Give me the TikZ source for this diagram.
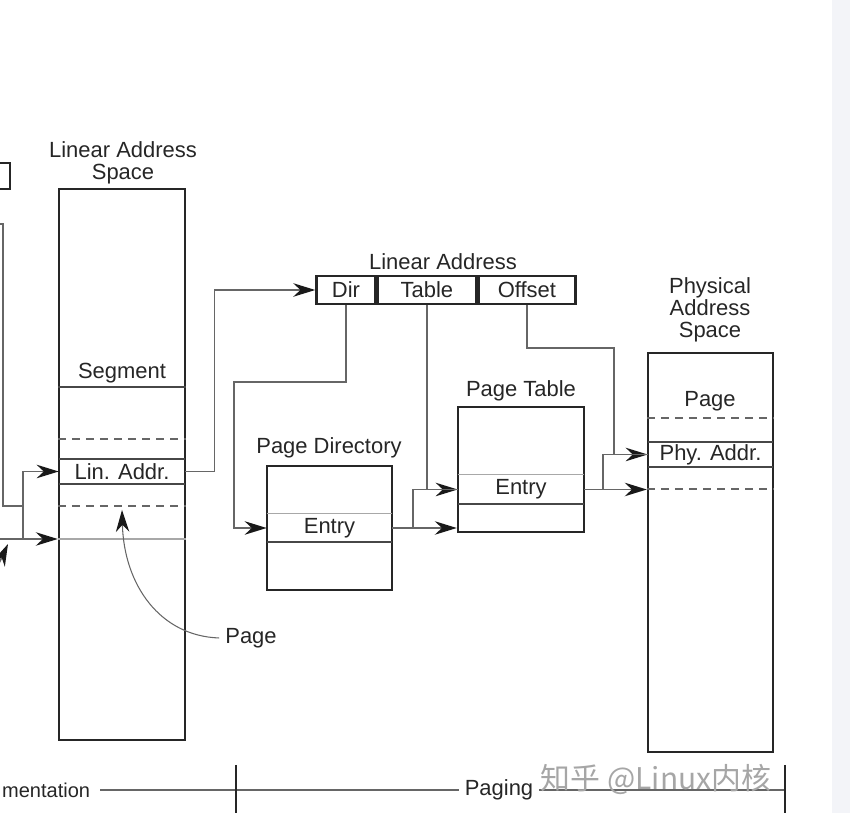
\documentclass[tikz,border=0pt]{standalone}
\usepackage{fontspec}
\setmainfont{Liberation Sans}
\newfontfamily\cjkfont{Noto Sans CJK SC}
\usepackage{tikz}
\usetikzlibrary{arrows.meta,calc}
\definecolor{inkgrey}{HTML}{262626}
\definecolor{linkgrey}{HTML}{666666}
\definecolor{softgrey}{HTML}{A8A8A8}
\definecolor{stripbg}{HTML}{F3F4F8}

\begin{document}
\begin{tikzpicture}[x=0.02cm,y=-0.02cm,
        >={Stealth[length=4.4mm,width=2.7mm,color=black!90]},
        every node/.style={font=\fontsize{12.5}{12.5}\selectfont,text=inkgrey},
        membox/.style={draw=inkgrey,line width=1.4pt,inner sep=0pt},
        slot/.style={inner sep=0pt,minimum height=0.5cm},
        link/.style={draw=linkgrey,line width=0.9pt},
        divline/.style={draw=inkgrey!85,line width=1pt},
        dashline/.style={draw=linkgrey,line width=0.9pt,dash pattern=on 4.5pt off 3.5pt},
        greyline/.style={draw=softgrey,line width=0.8pt}]
        \useasboundingbox (0,0) rectangle (850,813);
        \fill[stripbg] (832,0) rectangle (850,813);
        % cut-off part on the left
        \node[membox,minimum width=1cm,minimum height=0.52cm] (sel) at (-15,176) {};
        \coordinate (segin) at (-10,224);
        \coordinate (segdn) at (3,506);
        \coordinate (segj) at (23,506);
        \coordinate (basein) at (-10,539);
        \coordinate (tipa) at (-6,574);
        \coordinate (tipb) at (8,544);
        % linear address space
        \node[align=center] (lastitle) at (123,163) {Linear Address\\Space};
        \node[membox,minimum width=2.52cm,minimum height=11.02cm] (las) at (122,464.5) {};
        \node (segtxt) at (122,373) {Segment};
        \node[slot,minimum width=2.52cm] (lin) at (122,471.5) {Lin. Addr.};
        \draw[divline] (las.west |- 0,387) -- (las.east |- 0,387);
        \draw[dashline] (las.west |- 0,439) -- (las.east |- 0,439);
        \draw[divline] (lin.north west) -- (lin.north east);
        \draw[divline] (lin.south west) -- (lin.south east);
        \draw[dashline] (las.west |- 0,506) -- (las.east |- 0,506);
        \draw[greyline] (las.west |- 0,539) -- (las.east |- 0,539);
        % linear address fields
        \node (latitle) at (443,262) {Linear Address};
        \node[membox,minimum width=1.18cm,minimum height=0.56cm] (dir) at (346,290) {Dir};
        \node[membox,minimum width=1.96cm,minimum height=0.56cm,anchor=west] (table) at (dir.east) {Table};
        \node[membox,minimum width=1.94cm,minimum height=0.56cm,anchor=west] (offset) at (table.east) {Offset};
        % page directory
        \node (pdtitle) at (329,448) {Page Directory};
        \node[membox,minimum width=2.5cm,minimum height=2.48cm] (pd) at (329.5,528) {};
        \node[slot,minimum width=2.5cm,minimum height=0.56cm] (pde) at (329.5,528) {Entry};
        \draw[greyline] (pde.north west) -- (pde.north east);
        \draw[divline] (pde.south west) -- (pde.south east);
        % page table
        \node (pttitle) at (521,391) {Page Table};
        \node[membox,minimum width=2.52cm,minimum height=2.5cm] (pt) at (521,469.5) {};
        \node[slot,minimum width=2.52cm,minimum height=0.58cm] (pte) at (521,489.5) {Entry};
        \draw[greyline] (pte.north west) -- (pte.north east);
        \draw[divline] (pte.south west) -- (pte.south east);
        % physical address space
        \node[align=center] (pastitle) at (710,310) {Physical\\Address\\Space};
        \node[membox,minimum width=2.5cm,minimum height=7.98cm] (pas) at (710.5,552.5) {};
        \node (pgtxt) at (710,401) {Page};
        \node[slot,minimum width=2.5cm] (pha) at (710.5,454.5) {Phy. Addr.};
        \draw[dashline] (pas.west |- 0,418) -- (pas.east |- 0,418);
        \draw[divline] (pha.north west) -- (pha.north east);
        \draw[divline] (pha.south west) -- (pha.south east);
        \draw[dashline] (pas.west |- 0,489) -- (pas.east |- 0,489);
        % connectors
        \coordinate (bend1) at (234,382);
        \coordinate (bend2) at (614,348);
        \coordinate (j1) at (413,528);
        \coordinate (j2) at (603,489.5);
        \draw[link] (segin) -| (segdn) -- (segj);
        \draw[link,->] (segj) |- (lin.west);
        \draw[link] (segj) -- (segj |- basein);
        \draw[link,->] (basein) -- (basein -| las.west);
        \draw[link,->] (tipa) -- (tipb);
        \draw[link,->] (lin.east) -- ++(29,0) |- (dir.west);
        \draw[link,->] (dir.south) |- (bend1) |- (pde.west);
        \draw[link,->] (table.south) |- (pte.west);
        \draw[link,->] (pde.east) -- (pde.east -| pt.west);
        \draw[link] (j1) |- (pte.west);
        \draw[link,->] (offset.south) |- (bend2) |- (pha.west);
        \draw[link,->] (pte.east) -- (pte.east -| pas.west);
        \draw[link] (j2) |- (pha.west);
        % page pointer
        \node (pglbl) at (251,638) {Page};
        \draw[link,line width=0.6pt,->] (pglbl.west) .. controls (160,636) and (124,585) .. (122,510);
        % bottom scale
        \node[anchor=west,inner xsep=1pt,font=\fontsize{11.4}{12}\selectfont] (segm) at (0,790) {mentation};
        \node (paging) at (499,790) {Paging};
        \coordinate (rend) at (785,790);
        \coordinate (sepl) at (236,765);
        \coordinate (sepr) at (785,765);
        \draw[link] (segm.east) ++(8,0) -- (paging.west);
        \draw[link] (paging.east) -- (rend);
        \draw[inkgrey,line width=1.2pt] (sepl) -- ++(0,60);
        \draw[inkgrey,line width=1.2pt] (sepr) -- ++(0,60);
        % watermark
        \node[text=black!35,font=\cjkfont\fontsize{17}{18}\selectfont] (mark) at (656,779) {知乎 @Linux内核};
    \end{tikzpicture}
\end{document}
